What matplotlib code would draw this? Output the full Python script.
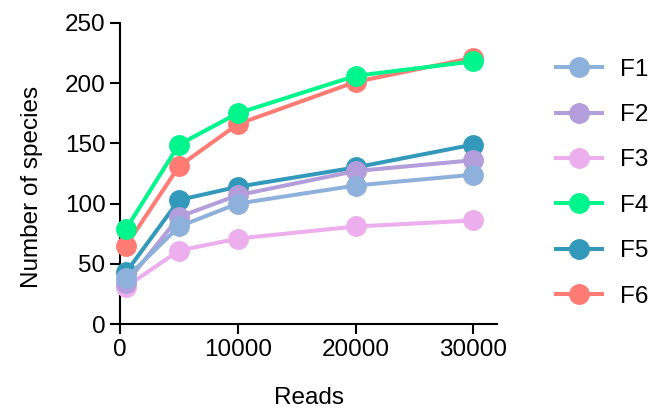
import matplotlib
matplotlib.use("Agg")
import matplotlib.pyplot as plt

plt.rcParams['font.family'] = ['Liberation Sans', 'DejaVu Sans']

reads = [500, 5000, 10000, 20000, 30000]
series_names = ["F1", "F2", "F3", "F4", "F5", "F6"]
F1 = [38, 81, 100, 115, 124]
F2 = [34, 89, 107, 127, 136]
F3 = [31, 61, 71, 81, 86]
F4 = [79, 149, 175, 206, 218]
F5 = [43, 103, 114, 130, 149]
F6 = [65, 131, 166, 201, 221]
colors = ["#8EB1DC", "#B39DDB", "#EDAEEE", "#00F58C", "#3399BB", "#FF7B73"]
xticks = [0, 10000, 20000, 30000]
yticks = [0, 50, 100, 150, 200, 250]

fig = plt.figure(figsize=(6.53, 4.15), dpi=100)
ax = fig.add_axes([0.184, 0.219, 0.577, 0.726])

data = [F1, F2, F3, F4, F5, F6]
n = len(data)
for i, (name, vals, c) in enumerate(zip(series_names, data, colors)):
    ax.plot(reads, vals, color=c, lw=2.9, marker='o', markersize=14,
            label=name, zorder=10 + (n - i), clip_on=False)

ax.set_xlim(0, 32000)
ax.set_ylim(0, 250)
ax.set_xticks(xticks)
ax.set_yticks(yticks)
ax.spines['top'].set_visible(False)
ax.spines['right'].set_visible(False)
for s in ['left', 'bottom']:
    ax.spines[s].set_linewidth(1.5)
ax.tick_params(axis='both', width=1.5, length=7, labelsize=17.5, color='black')
ax.set_xlabel("Reads", fontsize=17.5)
ax.set_ylabel("Number of species", fontsize=17.5)
ax.xaxis.set_label_coords(0.5, -0.21)
ax.yaxis.set_label_coords(-0.205, 0.455)

leg = ax.legend(loc='upper left', bbox_to_anchor=(1.13, 0.913), frameon=False,
                fontsize=17.5, handlelength=1.9, handletextpad=0.75,
                labelspacing=0.96, borderaxespad=0)

fig.savefig("out.png", dpi=100)
